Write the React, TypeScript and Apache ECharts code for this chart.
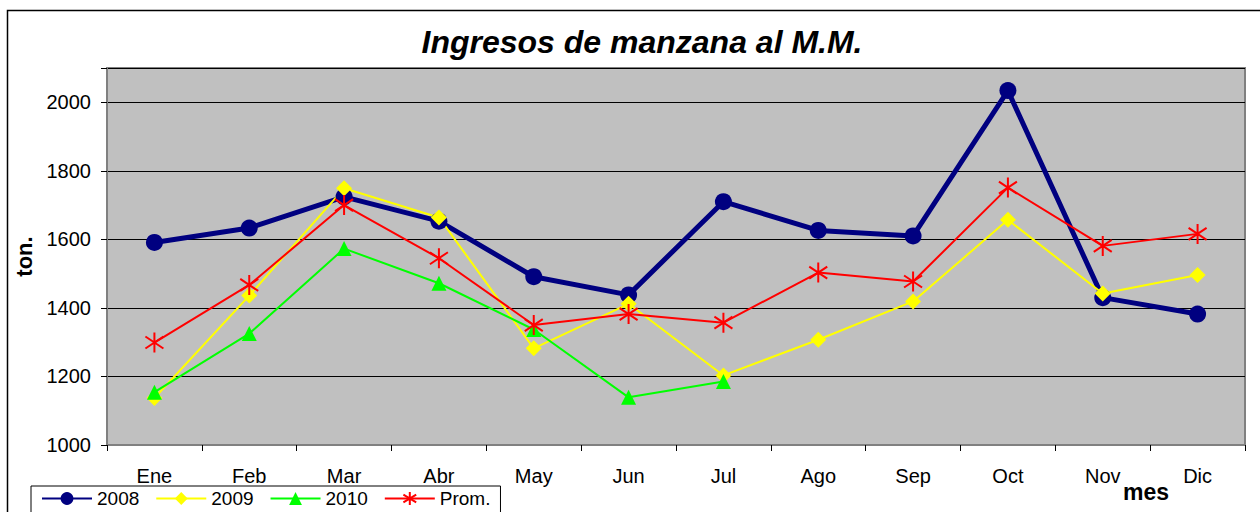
import React, { useEffect, useRef } from "react";
import * as echarts from "echarts";

const months = ["Ene", "Feb", "Mar", "Abr", "May", "Jun", "Jul", "Ago", "Sep", "Oct", "Nov", "Dic"];
const s2008 = [1591, 1633, 1724, 1653, 1491, 1438, 1710, 1626, 1610, 2034, 1430, 1382];
const s2009 = [1137, 1436, 1749, 1664, 1282, 1412, 1203, 1307, 1419, 1657, 1442, 1496];
const s2010 = [1154, 1325, 1573, 1472, 1337, 1139, 1185, null, null, null, null, null];
const prom = [1299, 1467, 1700, 1545, 1350, 1382, 1357, 1503, 1477, 1751, 1581, 1616];
const yTicks = { min: 1000, max: 2100, interval: 200 };

const FONT = "Arial, 'Liberation Sans', sans-serif";
const STAR = "path://M0,-10L0,10M-9,-6L9,6M-9,6L9,-6";

export default function App() {
  const ref = useRef<HTMLDivElement>(null);
  useEffect(() => {
    if (!ref.current) return;
    const chart = echarts.init(ref.current, null, { renderer: "svg" });
    chart.setOption({
      animation: false,
      backgroundColor: "#ffffff",
      title: {
        text: "Ingresos de manzana al M.M.",
        left: 637,
        textAlign: "center",
        top: 21,
        textStyle: { fontFamily: FONT, fontSize: 32, fontWeight: "bold", fontStyle: "italic", color: "#000" },
      },
      graphic: [
        {
          type: "rect",
          z: -10,
          shape: { x: 7.5, y: 10.5, width: 1400, height: 700 },
          style: { fill: "none", stroke: "#000", lineWidth: 1.5 },
        },
        {
          type: "text",
          x: 1146,
          y: 492,
          style: { text: "mes", fontFamily: FONT, fontSize: 23, fontWeight: "bold", fill: "#000", textAlign: "center", textVerticalAlign: "middle" },
        },
      ],
      legend: {
        left: 31,
        top: 486,
        itemWidth: 50,
        itemHeight: 16,
        itemGap: 16,
        padding: [3, 10, 12, 10],
        borderColor: "#000",
        borderWidth: 1,
        backgroundColor: "#ffffff",
        textStyle: { fontFamily: FONT, fontSize: 19, color: "#000" },
        data: ["2008", "2009", "2010", "Prom."],
      },
      grid: {
        left: 107,
        top: 68,
        right: 15,
        bottom: 67,
        show: true,
        backgroundColor: "#C0C0C0",
        borderColor: "#808080",
        borderWidth: 2,
      },
      xAxis: {
        type: "category",
        data: months,
        boundaryGap: true,
        axisLine: { lineStyle: { color: "#808080", width: 2 } },
        axisTick: { show: true, length: 6, inside: false, lineStyle: { color: "#000" } },
        axisLabel: { fontFamily: FONT, fontSize: 20, color: "#000", margin: 21 },
      },
      yAxis: {
        type: "value",
        min: yTicks.min,
        max: yTicks.max,
        interval: yTicks.interval,
        name: "ton.",
        nameLocation: "middle",
        nameRotate: 90,
        nameGap: 69,
        nameTextStyle: { fontFamily: FONT, fontSize: 22, fontWeight: "bold", color: "#000" },
        axisLine: { show: true, lineStyle: { color: "#808080", width: 2 } },
        axisTick: { show: true, length: 6, lineStyle: { color: "#000" } },
        axisLabel: { fontFamily: FONT, fontSize: 20, color: "#000", margin: 16,
          formatter: (v: number) => (v > 2000 ? "" : String(v)) },
        splitLine: { show: true, lineStyle: { color: "#000", width: 1 } },
      },
      series: [
        {
          name: "2008",
          type: "line",
          data: s2008,
          symbol: "circle",
          symbolSize: 17,
          lineStyle: { color: "#000080", width: 5 },
          itemStyle: { color: "#000080" },
        },
        {
          name: "2009",
          type: "line",
          data: s2009,
          symbol: "diamond",
          symbolSize: 16,
          lineStyle: { color: "#FFFF00", width: 2 },
          itemStyle: { color: "#FFFF00" },
        },
        {
          name: "2010",
          type: "line",
          data: s2010,
          symbol: "triangle",
          symbolSize: 15,
          lineStyle: { color: "#00FF00", width: 2 },
          itemStyle: { color: "#00FF00" },
        },
        {
          name: "Prom.",
          type: "line",
          data: prom,
          symbol: STAR,
          symbolSize: 20,
          symbolKeepAspect: true,
          lineStyle: { color: "#FF0000", width: 2 },
          itemStyle: { color: "#FF0000", borderColor: "#FF0000", borderWidth: 2 },
        },
      ],
    });
    return () => chart.dispose();
  }, []);
  return <div ref={ref} style={{ position: "absolute", left: 0, top: 0, width: 1260, height: 512 }} />;
}
